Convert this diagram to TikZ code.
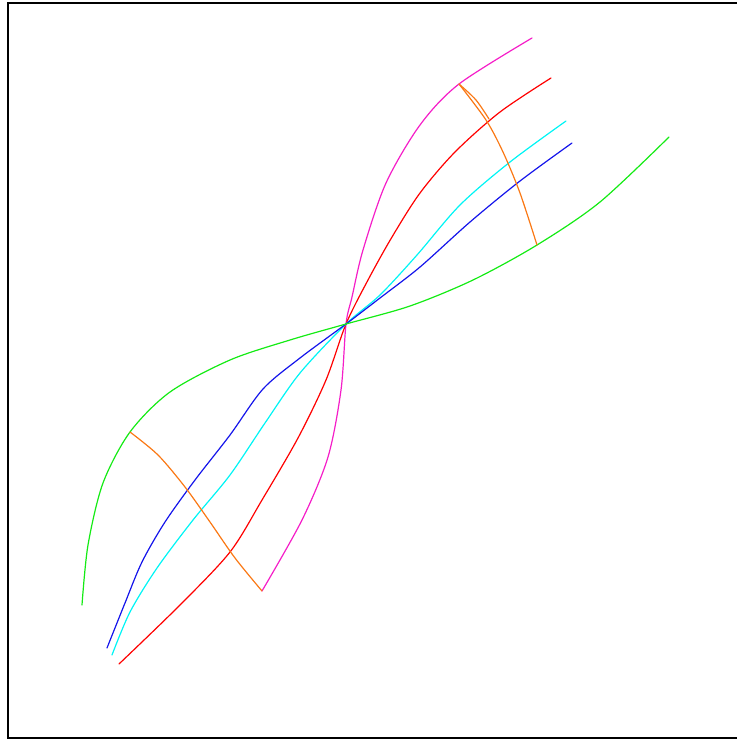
\documentclass[tikz,border=0pt]{standalone}
\usepackage{tikz}
\usetikzlibrary{calc}
\definecolor{mgnt}{RGB}{245,30,200}
\definecolor{grn}{RGB}{20,235,20}
\definecolor{orng}{RGB}{250,120,20}
\definecolor{cyn}{RGB}{0,245,245}
\definecolor{blu}{RGB}{20,20,235}
\begin{document}
\begin{tikzpicture}[x=0.5pt, y=-0.5pt, line width=0.6pt]
        \tikzset{
            crv/.style={line join=round, line cap=round},
            frm/.style={draw=black, line width=0.9pt}
        }
        \useasboundingbox (0,0) rectangle (736,740);
        %% ---- Marco ----
        \draw[frm] (8,3) rectangle (760,738);
        %% ---- Puntos ----
        \coordinate (O)   at (346,324);
        \coordinate (gA)  at (130,432);
        \coordinate (mB)  at (262,591);
        \coordinate (mA)  at (459,84);
        \coordinate (gB)  at (537,245);
        %% ---- Curvas ----
        \draw[crv, mgnt] plot[smooth] coordinates {(532,38) (mA) (420,125)
            (386,183) (363,250) (352,297) (O) (341,390) (328,457) (302,520) (mB)};
        \draw[crv, red] plot[smooth] coordinates {(551,78) (500,112) (455,152)
            (420,193) (392,237) (368,280) (O) (326,380) (298,438) (262,500)
            (230,552) (180,605) (119,664)};
        \draw[crv, cyn] plot[smooth] coordinates {(566,121) (510,162) (460,205)
            (417,255) (380,295) (O) (300,373) (265,423) (230,475) (193,520)
            (157,568) (130,612) (112,655)};
        \draw[crv, blu] plot[smooth] coordinates {(572,143) (520,181) (470,222)
            (420,267) (380,298) (O) (300,358) (263,389) (230,435) (195,480)
            (165,522) (142,562) (125,603) (107,648)};
        \draw[crv, grn] plot[smooth] coordinates {(82,605) (88,545) (103,483)
            (gA) (170,392) (230,360) (290,340) (O) (410,306) (473,280) (gB)
            (600,202) (669,137)};
        %% ---- Arcos naranjas ----
        \draw[crv, orng] plot[smooth] coordinates {(gA) (158,455) (185,487)
            (210,522) (235,558) (mB)};
        \draw[crv, orng] plot[smooth] coordinates {(mA) (486,120) (503,152)
            (520,193) (gB)};
        \draw[crv, orng] plot[smooth] coordinates {(mA) (476,100) (489,119)};
    \end{tikzpicture}
\end{document}
